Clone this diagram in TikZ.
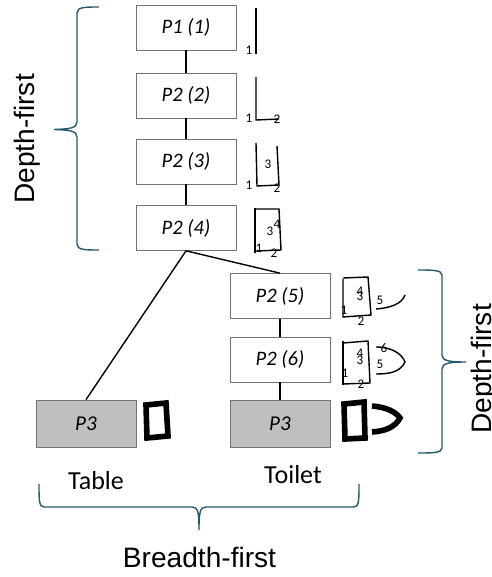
\documentclass[tikz,border=0pt]{standalone}
\usepackage{fontspec}
\setmainfont{Liberation Sans}
\newfontfamily\labelfont{Carlito}
\usetikzlibrary{positioning}
\definecolor{bracecol}{HTML}{24596B}
\tikzset{
  partbox/.style={draw=black!55,fill=white,minimum width=2cm,minimum height=0.9cm,inner sep=0pt,font=\labelfont\itshape\fontsize{11.7pt}{13pt}\selectfont},
  donebox/.style={partbox,fill=black!25,minimum height=0.94cm,font=\labelfont\itshape\fontsize{12pt}{13pt}\selectfont},
  num/.style={inner sep=0pt,font=\labelfont\fontsize{7.5pt}{8pt}\selectfont},
  caption/.style={inner sep=0pt,anchor=base,font=\labelfont\fontsize{14.8pt}{16pt}\selectfont},
  bigcaption/.style={inner sep=0pt,anchor=base,font=\fontsize{16pt}{18pt}\selectfont},
  brace/.style={draw=bracecol,line width=0.8pt},
  pen/.style={line width=0.8pt},
  fatpen/.style={line width=3.2pt}
}
\begin{document}
\begin{tikzpicture}[x=0.02cm,y=-0.02cm]
  \useasboundingbox (0,0) rectangle (491,577);
  \node[partbox] (p1) at (186,27.5) {P1 (1)};
  \node[partbox] (p2) at (186,95.5) {P2 (2)};
  \node[partbox] (p3) at (186,161.5) {P2 (3)};
  \node[partbox] (p4) at (186,228) {P2 (4)};
  \node[partbox] (p5) at (280,296) {P2 (5)};
  \node[partbox] (p6) at (280,359.5) {P2 (6)};
  \node[donebox] (table) at (86,423.5) {P3};
  \node[donebox] (toilet) at (280,423.5) {P3};

  \draw[line width=1.5pt](p1)--(p2);
  \draw[line width=0.7pt](p2)--(p3);
  \draw[line width=1pt](p3)--(p4);
  \draw[line width=0.8pt](p4.south)--(table.north);
  \draw[line width=0.8pt](p4.south)--(p5.north);
  \draw[line width=0.8pt](p5)--(p6);
  \draw[line width=0.8pt](p6)--(toilet);

  % sketches next to the boxes
  \draw[pen] (256,8)--(256,54);
  \node[num] (n1a) at (249,50) {1};

  \draw[pen] (256,77)--(256,120)--(279,119);
  \node[num] (n1b) at (249,118.5) {1};
  \node[num] (n2b) at (277,119) {2};

  \draw[pen] (256,143)--(257,186)--(279,185)--(277,146);
  \node[num] (n1c) at (249,185) {1};
  \node[num] (n2c) at (277,188) {2};
  \node[num] (n3c) at (268,164) {3};

  \draw[pen] (255,208)--(255,253);
  \draw[pen] (254,209)--(279,209)--(281,250)--(256,251);
  \node[num] (n1d) at (259,248) {1};
  \node[num] (n2d) at (274,253) {2};
  \node[num] (n3d) at (270,231) {3};
  \node[num] (n4d) at (277,224) {4};

  \draw[pen] (343,279)--(343,317)--(371,315)--(368,277)--(343,278);
  \node[num] (n1e) at (344,310) {1};
  \node[num] (n2e) at (361,321) {2};
  \node[num] (n3e) at (360,296) {3};
  \node[num] (n4e) at (360,291) {4};
  \node[num] (n5e) at (380,300) {5};
  \draw[pen] (376,309) .. controls (390,308) and (402,304) .. (405,295);

  \draw[pen] (343,341)--(343,385);
  \draw[pen] (343,343)--(368,341)--(370,383)--(343,384);
  \node[num] (n1f) at (345,373) {1};
  \node[num] (n2f) at (361,384) {2};
  \node[num] (n3f) at (360,360) {3};
  \node[num] (n4f) at (360,353) {4};
  \node[num] (n5f) at (380,364) {5};
  \node[num] (n6f) at (384,348) {6};
  \draw[pen] (376,347) .. controls (392,347) and (402,354) .. (405,362) .. controls (400,372) and (390,374) .. (376,374);

  \draw[fatpen] (146,405)--(147,438)--(168,436)--(166,403)--cycle;
  \draw[fatpen] (344,404)--(345,439)--(365,438)--(364,402)--cycle;
  \draw[fatpen] (372,406) .. controls (386,407) and (396,412) .. (400,418) .. controls (395,427) and (386,431) .. (372,432);

  % braces
  \draw[brace] (99,7) .. controls (85,7) and (77,7) .. (77,13) -- (77,122) .. controls (77,128) and (70,129) .. (54,129.5) .. controls (70,130) and (77,131) .. (77,137) -- (77,244) .. controls (77,250) and (85,250) .. (99,250);
  \draw[brace] (418,270) .. controls (432,270) and (442,270) .. (442,275) -- (442,355) .. controls (442,361) and (450,362) .. (466,362) .. controls (450,362) and (442,363) .. (442,369) -- (442,448) .. controls (442,453) and (432,453) .. (418,453);
  \draw[brace] (39,484) .. controls (39,500) and (39,507) .. (44,507) -- (192,507) .. controls (198,507) and (199,512) .. (199,530) .. controls (199,512) and (200,507) .. (206,507) -- (354,507) .. controls (359,507) and (359,500) .. (359,484);

  \node[bigcaption,rotate=90] (dfa) at (34,139) {Depth-first};
  \node[bigcaption,rotate=90] (dfb) at (491,369) {Depth-first};
  \node[bigcaption] (bf) at (199.5,567) {Breadth-first};
  \node[caption] (tt) at (96,489) {Table};
  \node[caption] (tl) at (293,483) {Toilet};
\end{tikzpicture}
\end{document}
